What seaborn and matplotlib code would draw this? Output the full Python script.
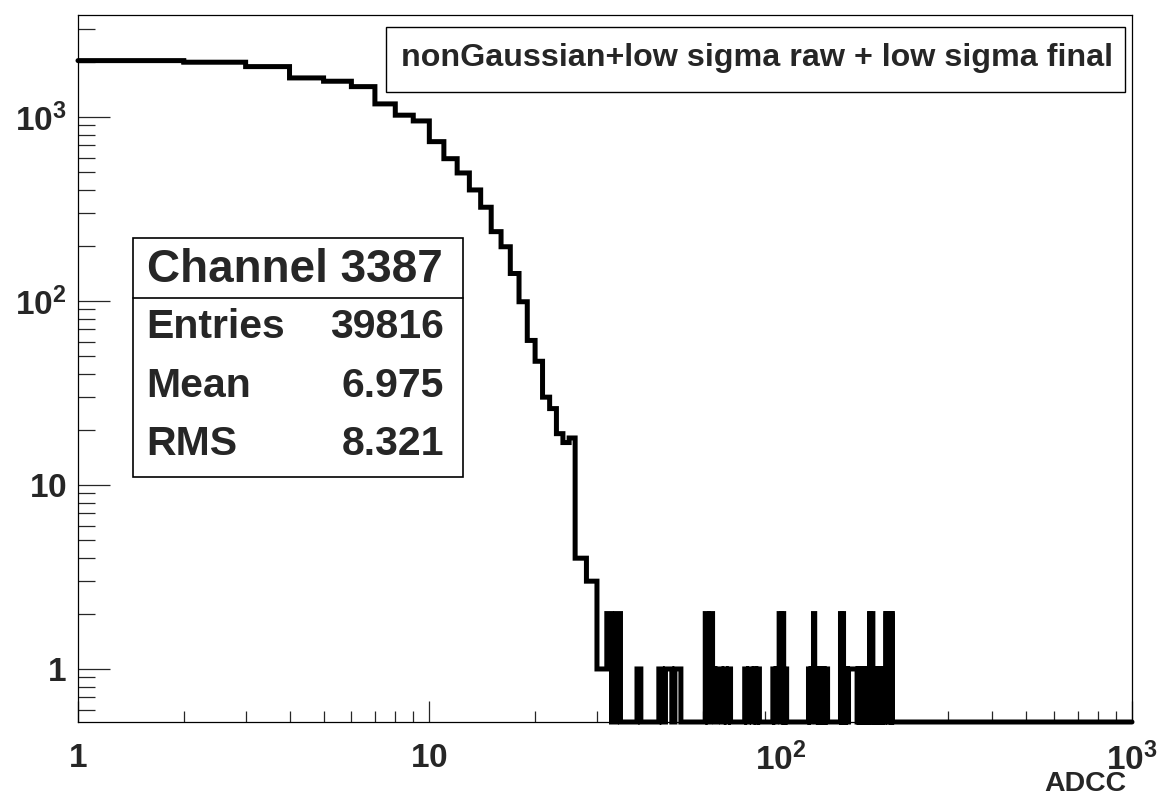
import numpy as np
import matplotlib
matplotlib.use("Agg")
import matplotlib.pyplot as plt
import seaborn as sns
from matplotlib.patches import Rectangle
from matplotlib.lines import Line2D
from matplotlib.ticker import LogLocator, NullFormatter, FixedLocator

# ---------------- data ----------------
low_adc = list(range(1, 32))
low_counts = [2023, 1983, 1877, 1629, 1563, 1461, 1177, 1022, 951, 734,
              593, 496, 401, 323, 238, 197, 141, 99, 61, 47,
              30, 26, 19, 17, 18, 4, 4, 3, 3, 1, 1]

tail_adc = [32, 34, 39, 45, 47, 48, 50, 51, 61, 63, 64, 66, 67, 69, 71,
            79, 81, 82, 84, 86, 95, 97, 98, 99, 101, 103,
            120, 122, 123, 124, 125, 127, 129, 130, 132, 134, 135,
            148, 150, 151, 153, 154, 156, 157, 158, 159, 160, 161, 162, 163, 164,
            166, 168, 169, 171, 173, 174, 176, 178, 179, 181, 182, 183, 185, 186,
            188, 190, 191, 193, 195, 196, 198, 199, 200, 201, 203, 204, 205, 207]
tail_counts = [2, 2, 1, 1, 1, 1, 1, 1, 2, 2, 1, 1, 1, 1, 1,
               1, 1, 1, 1, 1, 1, 1, 1, 2, 2, 1,
               1, 1, 1, 2, 1, 1, 1, 1, 1, 1, 1,
               2, 2, 1, 1, 1, 1, 1, 1, 1, 1, 1, 1, 1, 1,
               1, 1, 1, 1, 1, 1, 1, 1, 2, 2, 2, 1, 1, 1,
               1, 1, 1, 1, 1, 1, 1, 2, 1, 2, 2, 1, 2, 2]

n_bins = 999  # unit-wide ADC bins from 1 to 1000
y_ticks = [1, 10, 100, 1000]
y_tick_labels = [r"$\mathbf{1}$", r"$\mathbf{10}$", r"$\mathbf{10^{2}}$", r"$\mathbf{10^{3}}$"]
x_ticks = [1, 10, 100, 1000]
x_tick_labels = [r"$\mathbf{1}$", r"$\mathbf{10}$", r"$\mathbf{10^{2}}$", r"$\mathbf{10^{3}}$"]
x_label = "ADCC"
legend_text = "nonGaussian+low sigma raw + low sigma final"
stats_title = "Channel 3387"
stats_names = ["Entries", "Mean", "RMS"]
stats_values = ["39816", "6.975", "8.321"]

# ---------------- style ----------------
sns.set_style("white")
plt.rcParams["font.family"] = ["Liberation Sans", "DejaVu Sans"]
plt.rcParams["font.weight"] = "bold"
plt.rcParams["mathtext.fontset"] = "custom"
plt.rcParams["mathtext.rm"] = "Liberation Sans:bold"
plt.rcParams["mathtext.bf"] = "Liberation Sans:bold"
plt.rcParams["mathtext.it"] = "Liberation Sans:bold"

W, H = 1159, 795
fig = plt.figure(figsize=(W / 100, H / 100), dpi=100)
fig.patch.set_facecolor("white")
L, R, T, B = 78, 1132, 15, 722
ax = fig.add_axes([L / W, 1 - B / H, (R - L) / W, (B - T) / H])
ax.set_facecolor("white")

y_min, y_max = 0.515, 3580

counts = np.zeros(n_bins)
for a, c in zip(low_adc, low_counts):
    counts[a - 1] = c
for a, c in zip(tail_adc, tail_counts):
    counts[a - 1] = c
edges = np.arange(1, n_bins + 2)
plot_vals = np.where(counts > 0, counts, y_min)
y_step = np.append(plot_vals, plot_vals[-1])

ax.set_xscale("log")
ax.set_yscale("log")
sns.lineplot(x=edges, y=y_step, drawstyle="steps-post", estimator=None, sort=False,
             color="black", linewidth=3.6, ax=ax, clip_on=False, legend=False,
             solid_joinstyle="miter")
ax.set_xlim(1, 1000)
ax.set_ylim(y_min, y_max)

for s in ax.spines.values():
    s.set_linewidth(0.9)
    s.set_color("black")

ax.yaxis.set_major_locator(FixedLocator(y_ticks))
ax.set_yticklabels(y_tick_labels)
ax.yaxis.set_minor_locator(LogLocator(base=10, subs=np.arange(2, 10), numticks=20))
ax.yaxis.set_minor_formatter(NullFormatter())
ax.xaxis.set_major_locator(FixedLocator(x_ticks))
ax.set_xticklabels(x_tick_labels)
ax.xaxis.set_minor_locator(LogLocator(base=10, subs=np.arange(2, 10), numticks=20))
ax.xaxis.set_minor_formatter(NullFormatter())

ax.tick_params(axis="y", which="major", direction="in", length=23, width=0.9,
               left=True, right=False, labelsize=24, pad=8)
ax.tick_params(axis="y", which="minor", direction="in", length=12, width=0.9,
               left=True, right=False)
ax.tick_params(axis="x", which="major", direction="in", length=15, width=0.9,
               bottom=True, top=False, labelsize=24, pad=15)
ax.tick_params(axis="x", which="minor", direction="in", length=8, width=0.9,
               bottom=True, top=False)
ax.set_xlabel("")
ax.set_ylabel("")

def fx(x):
    return x / W

def fy(y):
    return 1 - y / H

# axis title
fig.text(fx(1126), fy(784), x_label, ha="right", va="center", fontsize=20.5,
         fontweight="bold")

# legend box
fig.add_artist(Rectangle((fx(386), fy(92)), fx(1125) - fx(386), fy(27) - fy(92),
                         transform=fig.transFigure, fill=True, facecolor="white",
                         edgecolor="black", linewidth=1.0))
fig.text(fx(757), fy(58), legend_text, ha="center", va="center", fontsize=23.2,
         fontweight="bold")

# stats box
fig.add_artist(Rectangle((fx(133), fy(477)), fx(463) - fx(133), fy(238) - fy(477),
                         transform=fig.transFigure, fill=True, facecolor="white",
                         edgecolor="black", linewidth=1.2))
fig.add_artist(Line2D([fx(133), fx(463)], [fy(298), fy(298)],
                      transform=fig.transFigure, color="black", linewidth=1.2))
fig.text(fx(295), fy(270), stats_title, ha="center", va="center", fontsize=33,
         fontweight="bold")
row_y = [327, 386, 444]
for name, val, yy in zip(stats_names, stats_values, row_y):
    fig.text(fx(146), fy(yy), name, ha="left", va="center", fontsize=29.5,
             fontweight="bold")
    fig.text(fx(444), fy(yy), val, ha="right", va="center", fontsize=29.5,
             fontweight="bold")

fig.savefig("out.png", dpi=100, facecolor="white")
